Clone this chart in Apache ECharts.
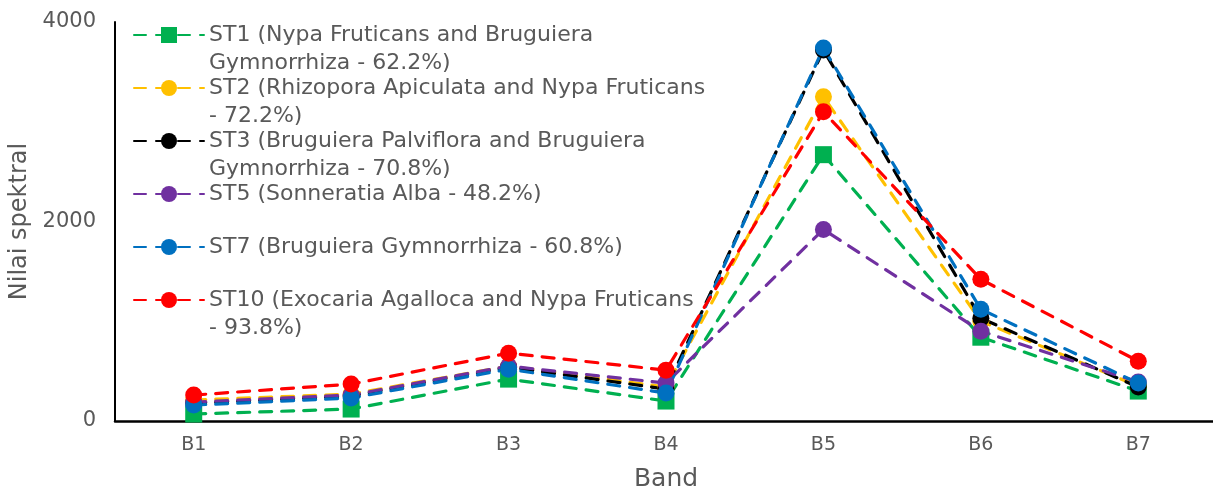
<!DOCTYPE html>
<html>
<head>
<meta charset="utf-8">
<script src="https://cdn.jsdelivr.net/npm/echarts@6/dist/echarts.min.js"></script>
<style>
  html, body { margin: 0; padding: 0; background: #ffffff; }
  #chart { width: 1213px; height: 492px; }
</style>
</head>
<body>
<div id="chart"></div>
<script>
// Spectral values per Landsat band for each mangrove station
const bands = ['B1', 'B2', 'B3', 'B4', 'B5', 'B6', 'B7'];
const yTicks = [0, 2000, 4000];

const st1 = [70, 120, 420, 200, 2670, 840, 300];
const st2 = [210, 270, 550, 340, 3250, 1000, 350];
const st3 = [180, 250, 540, 320, 3720, 1030, 340];
const st5 = [190, 260, 550, 380, 1920, 900, 390];
const st7 = [160, 230, 520, 280, 3740, 1120, 380];
const st10 = [260, 370, 680, 510, 3100, 1420, 600];

// Legend text, already split onto the lines it is printed on
const names = [
  'ST1 (Nypa Fruticans and Bruguiera Gymnorrhiza - 62.2%)',
  'ST2 (Rhizopora Apiculata and Nypa Fruticans - 72.2%)',
  'ST3 (Bruguiera Palviflora and Bruguiera Gymnorrhiza - 70.8%)',
  'ST5 (Sonneratia Alba - 48.2%)',
  'ST7 (Bruguiera Gymnorrhiza - 60.8%)',
  'ST10 (Exocaria Agalloca and Nypa Fruticans - 93.8%)'
];
const nameLines = [
  ['ST1 (Nypa Fruticans and Bruguiera', 'Gymnorrhiza - 62.2%)'],
  ['ST2 (Rhizopora Apiculata and Nypa Fruticans', '- 72.2%)'],
  ['ST3 (Bruguiera Palviflora and Bruguiera', 'Gymnorrhiza - 70.8%)'],
  ['ST5 (Sonneratia Alba - 48.2%)'],
  ['ST7 (Bruguiera Gymnorrhiza - 60.8%)'],
  ['ST10 (Exocaria Agalloca and Nypa Fruticans', '- 93.8%)']
];
const values = [st1, st2, st3, st5, st7, st10];
const colors = ['#00B050', '#FFC000', '#000000', '#7030A0', '#0070C0', '#FF0000'];
const symbols = ['rect', 'circle', 'circle', 'circle', 'circle', 'circle'];

const FONT = 'DejaVu Sans';
const TEXT = '#595959';
const LINE_H = 28;
const ICON_H = 20;
const legendY0 = 35;
const legendStep = 53;

const series = values.map((v, i) => ({
  name: names[i],
  type: 'line',
  data: v,
  symbol: symbols[i],
  symbolSize: 17,
  itemStyle: { color: colors[i] },
  lineStyle: { color: colors[i], width: 3.2, type: [12, 10], cap: 'round' },
  emphasis: { disabled: true },
  animation: false
}));

// One legend per station; a blank leading line keeps the marker level with
// the first printed line of a two-line label
const legends = names.map((n, i) => {
  const lines = nameLines[i];
  const two = lines.length > 1;
  const cy = legendY0 + legendStep * i;
  const boxH = two ? 3 * LINE_H : LINE_H;
  return {
    data: [n],
    left: 133,
    top: cy - boxH / 2,
    orient: 'vertical',
    itemWidth: 70,
    itemHeight: ICON_H,
    itemGap: 0,
    padding: 0,
    selectedMode: false,
    formatter: () => (two ? [' '].concat(lines) : lines).join('\n'),
    textStyle: {
      fontFamily: FONT,
      fontSize: 22,
      color: TEXT,
      lineHeight: LINE_H
    }
  };
});

const chart = echarts.init(document.getElementById('chart'), null, { renderer: 'canvas' });
chart.setOption({
  animation: false,
  backgroundColor: '#ffffff',
  grid: {
    left: 115, top: 22, width: 1102, height: 399,
    containLabel: false,
    outerBoundsMode: 'none'
  },
  legend: legends,
  xAxis: {
    type: 'category',
    data: bands,
    boundaryGap: true,
    name: 'Band',
    nameLocation: 'middle',
    nameGap: 46,
    nameTextStyle: { fontFamily: FONT, fontSize: 25, color: TEXT },
    axisLine: { lineStyle: { color: '#000000', width: 2.5 } },
    axisTick: { show: false },
    axisLabel: { fontFamily: FONT, fontSize: 19, color: TEXT, margin: 15 },
    splitLine: { show: false }
  },
  yAxis: {
    type: 'value',
    min: yTicks[0],
    max: yTicks[yTicks.length - 1],
    interval: yTicks[1] - yTicks[0],
    name: 'Nilai spektral',
    nameLocation: 'middle',
    nameGap: 82,
    nameTextStyle: { fontFamily: FONT, fontSize: 24, color: TEXT },
    axisLine: { show: true, lineStyle: { color: '#000000', width: 2 } },
    axisTick: { show: false },
    axisLabel: {
      fontFamily: FONT, fontSize: 21, color: TEXT, margin: 19,
      formatter: (v) => String(v)
    },
    splitLine: { show: false }
  },
  series: series
});
</script>
</body>
</html>
